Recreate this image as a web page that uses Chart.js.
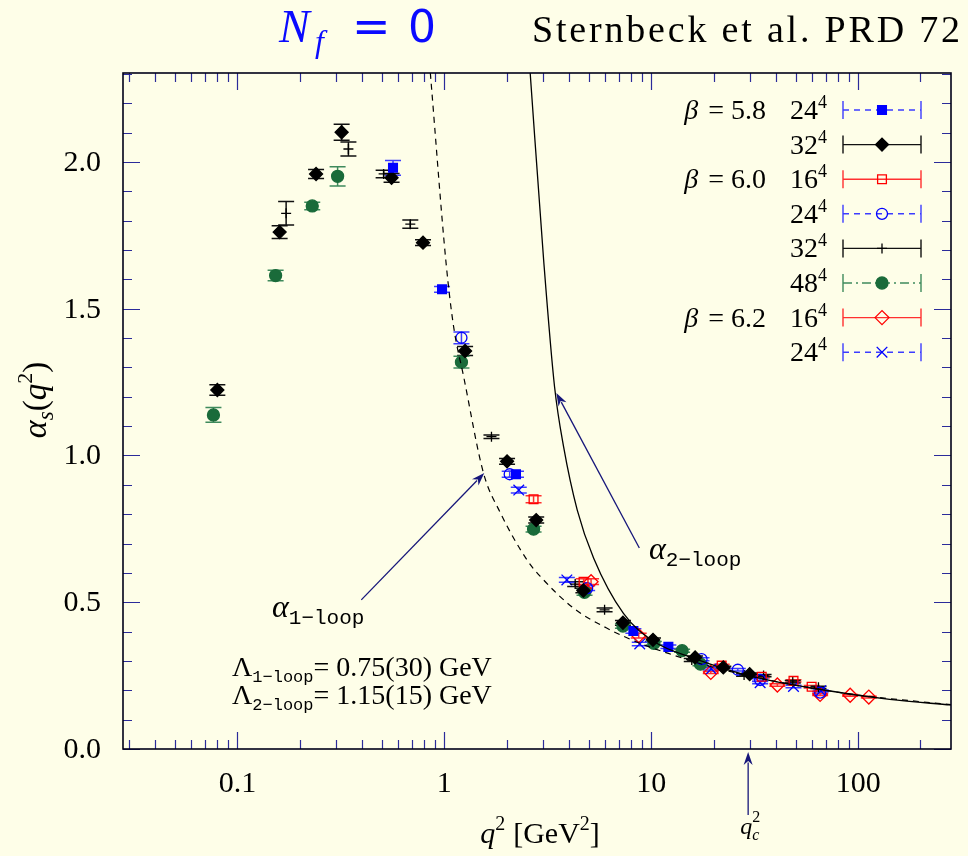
<!DOCTYPE html>
<html>
<head>
<meta charset="utf-8">
<script src="https://cdn.jsdelivr.net/npm/chart.js@4.4.0/dist/chart.umd.min.js"></script>
<style>
  html, body { margin: 0; padding: 0; background: #fefee8; }
  #wrap { width: 968px; height: 856px; }
</style>
</head>
<body>
<div id="wrap"><canvas id="c" width="968" height="856"></canvas></div>
<script>
// points are [q2 (GeV^2), alpha_s, error]
const b58_24 = [[0.565,1.980,0.025],[0.975,1.566,0.010],[2.22,0.936,0.010],[8.2,0.402,0.008],[12.1,0.348,0.006]];
const b58_32 = [[0.080,1.223,0.018],[0.160,1.761,0.022],[0.240,1.959,0.015],[0.319,2.101,0.027],[0.556,1.946,0.015],
  [0.789,1.725,0.010],[1.26,1.356,0.015],[2.01,0.980,0.010],[2.78,0.780,0.010],[4.70,0.540,0.008],[7.3,0.430,0.008],
  [10.2,0.372,0.006],[16.3,0.312,0.005],[22.3,0.278,0.004],[29.9,0.255,0.004]];
const b60_16 = [[2.70,0.851,0.012],[4.71,0.570,0.010],[21.9,0.284,0.005],[34.2,0.246,0.004],[48.7,0.232,0.004],[59.6,0.212,0.004]];
const b60_24 = [[1.21,1.401,0.020],[2.07,0.936,0.010],[4.90,0.548,0.008],[17.5,0.306,0.005],[26.2,0.270,0.004],
  [33.6,0.235,0.004],[65.5,0.192,0.004]];
const b60_32 = [[0.172,1.825,0.040],[0.344,2.044,0.024],[0.509,1.959,0.013],[0.685,1.788,0.014],[1.69,1.064,0.006],
  [4.29,0.562,0.008],[5.95,0.474,0.006],[15.7,0.303,0.005],[28.1,0.252,0.004],[34.9,0.250,0.004],[48.3,0.229,0.004],[64.3,0.210,0.004]];
const b60_48 = [[0.0766,1.138,0.025],[0.153,1.613,0.018],[0.230,1.850,0.013],[0.305,1.951,0.033],[1.21,1.318,0.020],
  [2.70,0.749,0.010],[4.76,0.534,0.010],[7.3,0.419,0.008],[10.3,0.360,0.006],[14.1,0.335,0.005],[17.3,0.289,0.005]];
const b62_16 = [[5.12,0.570,0.010],[8.7,0.386,0.008],[19.4,0.261,0.004],[40.7,0.218,0.004],[65.5,0.186,0.004],
  [91.5,0.183,0.003],[112.6,0.177,0.003]];
const b62_24 = [[2.29,0.882,0.010],[3.91,0.576,0.008],[8.8,0.358,0.006],[19.5,0.273,0.004],[33.6,0.226,0.004],
  [48.7,0.213,0.004],[66.0,0.198,0.003]];

// curves: [q2, alpha]
const loop1 = [[0.856,2.303],[1.02,1.655],[1.109,1.439],[1.239,1.270],[1.548,0.939],[1.865,0.805],[2.51,0.644],
  [2.91,0.588],[4.21,0.480],[6.09,0.412],[8.83,0.360],[12.8,0.320],[18.6,0.284],[26.9,0.256],[52,0.215],[100,0.184],[281,0.151]];
const loop2 = [[2.60,2.303],[3.02,1.666],[3.41,1.234],[3.77,1.030],[4.39,0.814],[5.27,0.650],[7.34,0.462],
  [10.3,0.366],[16.1,0.309],[28.9,0.252],[68.2,0.201],[142,0.169],[281,0.150]];

const xTicks = [0.1, 1, 10, 100];
const xTickLabels = ['0.1', '1', '10', '100'];
const yTicks = [0, 0.5, 1.0, 1.5, 2.0];
const yTickLabels = ['0.0', '0.5', '1.0', '1.5', '2.0'];
const qc2 = 29.4;

const series = [
  { pts: b58_24, color: '#0000ff', bar: '#3c3cff', style: 'rect',     r: 6.2, fill: true,  dash: [6, 5], beta: '5.8', L: '24' },
  { pts: b58_32, color: '#000000', bar: '#111111', style: 'rectRot',  r: 6.5, fill: true,  dash: [],     beta: '',    L: '32' },
  { pts: b60_16, color: '#ff0000', bar: '#ff3030', style: 'rect',     r: 6.2, fill: false, dash: [],     beta: '6.0', L: '16' },
  { pts: b60_24, color: '#0000ff', bar: '#3c3cff', style: 'circle',   r: 5.5, fill: false, dash: [6, 5], beta: '',    L: '24' },
  { pts: b60_32, color: '#000000', bar: '#111111', style: 'cross',    r: 5,   fill: false, dash: [],     beta: '',    L: '32' },
  { pts: b60_48, color: '#1a6b3a', bar: '#3f8a5c', style: 'circle',   r: 6,   fill: true,  dash: [9, 4, 2, 4], beta: '', L: '48' },
  { pts: b62_16, color: '#ff0000', bar: '#ff3030', style: 'rectRot',  r: 7,   fill: false, dash: [],     beta: '6.2', L: '16' },
  { pts: b62_24, color: '#0000ff', bar: '#3c3cff', style: 'crossRot', r: 7.5, fill: false, dash: [6, 5], beta: '',    L: '24' },
];

const BG = '#fefee8';
const TICK = '#2b2b9a';
const NAVY = '#16167a';
const SERIF = '"Liberation Serif", "DejaVu Serif", serif';
const MONO = '"Liberation Mono", "DejaVu Sans Mono", monospace';

function parts(ctx, x, y, list) {
  ctx.textAlign = 'left';
  ctx.textBaseline = 'alphabetic';
  list.forEach(p => {
    ctx.font = p.f;
    ctx.fillText(p.t, x, y + (p.dy || 0));
    x += ctx.measureText(p.t).width + (p.gap || 0);
  });
  return x;
}

function partsWidth(ctx, list) {
  let w = 0;
  list.forEach(p => { ctx.font = p.f; w += ctx.measureText(p.t).width + (p.gap || 0); });
  return w;
}

function marker(ctx, s, x, y) {
  ctx.save();
  ctx.strokeStyle = s.color;
  ctx.fillStyle = s.color;
  ctx.lineWidth = 1.3;
  ctx.setLineDash([]);
  ctx.beginPath();
  const r = s.r;
  if (s.style === 'rect') {
    const h = r * Math.SQRT1_2;
    ctx.rect(x - h, y - h, 2 * h, 2 * h);
  } else if (s.style === 'rectRot') {
    ctx.moveTo(x - r, y); ctx.lineTo(x, y - r); ctx.lineTo(x + r, y); ctx.lineTo(x, y + r); ctx.closePath();
  } else if (s.style === 'circle') {
    ctx.arc(x, y, r, 0, Math.PI * 2);
  } else if (s.style === 'cross') {
    ctx.moveTo(x - r, y); ctx.lineTo(x + r, y); ctx.moveTo(x, y - r); ctx.lineTo(x, y + r);
  } else {
    const h = r * Math.SQRT1_2;
    ctx.moveTo(x - h, y - h); ctx.lineTo(x + h, y + h); ctx.moveTo(x + h, y - h); ctx.lineTo(x - h, y + h);
  }
  if (s.fill) ctx.fill();
  ctx.stroke();
  ctx.restore();
}

function arrow(ctx, x1, y1, x2, y2) {
  const a = Math.atan2(y2 - y1, x2 - x1);
  const len = 13, w = 4.5;
  ctx.save();
  ctx.strokeStyle = NAVY; ctx.fillStyle = NAVY; ctx.lineWidth = 1.3;
  ctx.beginPath(); ctx.moveTo(x1, y1);
  ctx.lineTo(x2 - Math.cos(a) * len * 0.8, y2 - Math.sin(a) * len * 0.8); ctx.stroke();
  ctx.beginPath();
  ctx.moveTo(x2, y2);
  ctx.lineTo(x2 - Math.cos(a) * len - Math.sin(a) * w, y2 - Math.sin(a) * len + Math.cos(a) * w);
  ctx.lineTo(x2 - Math.cos(a) * len * 0.7, y2 - Math.sin(a) * len * 0.7);
  ctx.lineTo(x2 - Math.cos(a) * len + Math.sin(a) * w, y2 - Math.sin(a) * len - Math.cos(a) * w);
  ctx.closePath(); ctx.fill();
  ctx.restore();
}

const deco = {
  id: 'deco',
  beforeDraw(chart) {
    const ctx = chart.ctx;
    ctx.save();
    ctx.fillStyle = BG;
    ctx.fillRect(0, 0, chart.width, chart.height);
    ctx.restore();
  },
  beforeDatasetsDraw(chart) {
    const ctx = chart.ctx, xs = chart.scales.x, ys = chart.scales.y, a = chart.chartArea;
    ctx.save();
    ctx.beginPath(); ctx.rect(a.left, a.top, a.right - a.left, a.bottom - a.top); ctx.clip();
    chart.data.datasets.forEach(ds => {
      if (!ds.err) return;
      ctx.strokeStyle = ds.barColor;
      ctx.lineWidth = 1.5;
      ds.data.forEach((p, i) => {
        const px = xs.getPixelForValue(p.x);
        const y1 = ys.getPixelForValue(p.y - ds.err[i]);
        const y2 = ys.getPixelForValue(p.y + ds.err[i]);
        ctx.beginPath();
        ctx.moveTo(px, y1); ctx.lineTo(px, y2);
        ctx.moveTo(px - 8, y1); ctx.lineTo(px + 8, y1);
        ctx.moveTo(px - 8, y2); ctx.lineTo(px + 8, y2);
        ctx.stroke();
      });
    });
    ctx.restore();
  },
  afterDraw(chart) {
    const ctx = chart.ctx, xs = chart.scales.x, ys = chart.scales.y, a = chart.chartArea;
    ctx.save();
    // ticks on all four sides, pointing in
    ctx.strokeStyle = TICK; ctx.lineWidth = 1.2;
    const xt = [];
    for (let d = -2; d <= 2; d++) for (let m = 1; m <= 9; m++) {
      const v = m * Math.pow(10, d);
      if (v >= xs.min && v <= xs.max) xt.push([v, m === 1]);
    }
    xt.forEach(([v, major]) => {
      const px = Math.round(xs.getPixelForValue(v)) + 0.5, L = major ? 17 : 9;
      ctx.beginPath();
      ctx.moveTo(px, a.bottom); ctx.lineTo(px, a.bottom - L);
      ctx.moveTo(px, a.top); ctx.lineTo(px, a.top + L);
      ctx.stroke();
    });
    for (let k = 0; k <= 23; k++) {
      const v = k / 10, major = k % 5 === 0, L = major ? 17 : 9;
      const py = Math.round(ys.getPixelForValue(v)) + 0.5;
      ctx.beginPath();
      ctx.moveTo(a.left, py); ctx.lineTo(a.left + L, py);
      ctx.moveTo(a.right, py); ctx.lineTo(a.right - L, py);
      ctx.stroke();
    }
    // frame
    ctx.strokeStyle = '#000018'; ctx.lineWidth = 1.6;
    ctx.strokeRect(a.left, a.top, a.right - a.left, a.bottom - a.top);

    // tick labels
    ctx.fillStyle = '#000';
    ctx.font = '30px ' + SERIF;
    ctx.textAlign = 'center'; ctx.textBaseline = 'alphabetic';
    xTicks.forEach((v, i) => ctx.fillText(xTickLabels[i], xs.getPixelForValue(v), a.bottom + 43));
    ctx.textAlign = 'right'; ctx.textBaseline = 'middle';
    yTicks.forEach((v, i) => ctx.fillText(yTickLabels[i], a.left - 22, ys.getPixelForValue(v) + 1));

    // axis titles
    ctx.fillStyle = '#000';
    const xl = [
      { t: 'q', f: 'italic 30px ' + SERIF },
      { t: '2', f: '20px ' + SERIF, dy: -13, gap: 8 },
      { t: '[GeV', f: '30px ' + SERIF },
      { t: '2', f: '20px ' + SERIF, dy: -13 },
      { t: ']', f: '30px ' + SERIF },
    ];
    parts(ctx, 538 - partsWidth(ctx, xl) / 2 + 2, 843, xl);
    const yl = [
      { t: 'α', f: 'italic 34px ' + SERIF },
      { t: 's', f: 'italic 23px ' + SERIF, dy: 7 },
      { t: '(', f: '33px ' + SERIF },
      { t: 'q', f: 'italic 33px ' + SERIF },
      { t: '2', f: '22px ' + SERIF, dy: -14 },
      { t: ')', f: '33px ' + SERIF },
    ];
    ctx.save();
    ctx.translate(46, 400 + partsWidth(ctx, yl) / 2); ctx.rotate(-Math.PI / 2);
    parts(ctx, 0, 0, yl);
    ctx.restore();

    // titles
    ctx.fillStyle = '#0a0aff';
    ctx.font = 'italic 46px ' + SERIF; ctx.textAlign = 'left';
    ctx.fillText('N', 279, 42);
    ctx.font = 'italic 32px ' + SERIF;
    ctx.fillText('f', 315, 52);
    ctx.font = '46px "DejaVu Sans", sans-serif';
    ctx.fillText('=', 352, 42);
    ctx.font = '44px "DejaVu Sans", sans-serif';
    ctx.fillText('0', 408, 42);
    ctx.fillStyle = '#000';
    ctx.font = '38px ' + SERIF;
    const title = 'Sternbeck et al. PRD 72';
    const tw = ctx.measureText(title).width;
    ctx.letterSpacing = Math.max(0, (428 - tw) / (title.length - 1)).toFixed(2) + 'px';
    ctx.textAlign = 'left';
    ctx.fillText(title, 532, 42);
    ctx.letterSpacing = '0px';

    // curve annotations
    const X = v => xs.getPixelForValue(v), Y = v => ys.getPixelForValue(v);
    arrow(ctx, X(0.397), Y(0.508), X(1.56), Y(0.94));
    arrow(ctx, X(8.76), Y(0.685), X(3.48), Y(1.213));
    arrow(ctx, X(qc2), a.bottom + 66, X(qc2), a.bottom + 3);
    ctx.fillStyle = '#000';
    parts(ctx, 272, 617, [
      { t: 'α', f: 'italic 32px ' + SERIF },
      { t: '1−loop', f: '21px ' + MONO, dy: 7 },
    ]);
    parts(ctx, 649, 559, [
      { t: 'α', f: 'italic 32px ' + SERIF },
      { t: '2−loop', f: '21px ' + MONO, dy: 7 },
    ]);
    parts(ctx, 232, 676, [
      { t: 'Λ', f: '28px ' + SERIF },
      { t: '1−loop', f: '17px ' + MONO, dy: 6 },
      { t: '= 0.75(30) GeV', f: '28px ' + SERIF },
    ]);
    parts(ctx, 232, 704, [
      { t: 'Λ', f: '28px ' + SERIF },
      { t: '2−loop', f: '17px ' + MONO, dy: 6 },
      { t: '= 1.15(15) GeV', f: '28px ' + SERIF },
    ]);
    const qx = X(qc2) - 8;
    ctx.font = 'italic 24px ' + SERIF; ctx.textAlign = 'left';
    ctx.fillText('q', qx, 834);
    ctx.font = '16px ' + SERIF; ctx.fillText('2', qx + 12, 822);
    ctx.font = 'italic 16px ' + SERIF; ctx.fillText('c', qx + 12, 840);

    // legend
    series.forEach((s, i) => {
      const cy = 110 + i * 34.6;
      ctx.fillStyle = '#000';
      if (s.beta) {
        ctx.textAlign = 'right';
        ctx.font = '28px ' + SERIF;
        const bw = ctx.measureText(' = ' + s.beta).width;
        ctx.fillText(' = ' + s.beta, 766, cy + 9);
        ctx.font = 'italic 28px ' + SERIF;
        ctx.fillText('β', 763 - bw, cy + 9);
      }
      parts(ctx, 790, cy + 9, [
        { t: s.L, f: '28px ' + SERIF },
        { t: '4', f: '18px ' + SERIF, dy: -11 },
      ]);
      ctx.strokeStyle = s.bar; ctx.lineWidth = 1.4;
      ctx.setLineDash(s.dash);
      ctx.beginPath(); ctx.moveTo(843, cy); ctx.lineTo(921, cy); ctx.stroke();
      ctx.setLineDash([]);
      ctx.beginPath();
      ctx.moveTo(843, cy - 9); ctx.lineTo(843, cy + 9);
      ctx.moveTo(921, cy - 9); ctx.lineTo(921, cy + 9);
      ctx.stroke();
      marker(ctx, s, 882, cy);
    });
    ctx.restore();
  }
};

const datasets = series.map(s => ({
  data: s.pts.map(p => ({ x: p[0], y: p[1] })),
  err: s.pts.map(p => p[2]),
  barColor: s.bar,
  showLine: false,
  pointStyle: s.style,
  pointRadius: s.r,
  pointBorderWidth: 1.3,
  pointBackgroundColor: s.fill ? s.color : 'rgba(0,0,0,0)',
  pointBorderColor: s.color,
}));
datasets.unshift({
  data: loop1.map(p => ({ x: p[0], y: p[1] })),
  showLine: true, pointRadius: 0, borderColor: '#000', borderWidth: 1.2,
  borderDash: [6, 5], cubicInterpolationMode: 'monotone', fill: false,
}, {
  data: loop2.map(p => ({ x: p[0], y: p[1] })),
  showLine: true, pointRadius: 0, borderColor: '#000', borderWidth: 1.3,
  cubicInterpolationMode: 'monotone', fill: false,
});

new Chart(document.getElementById('c'), {
  type: 'scatter',
  data: { datasets },
  options: {
    responsive: false,
    devicePixelRatio: 1,
    animation: false,
    events: [],
    layout: { padding: { top: 73, right: 17, left: 0, bottom: 0 } },
    plugins: { legend: { display: false }, tooltip: { enabled: false } },
    scales: {
      x: {
        type: 'logarithmic', min: 0.028, max: 281,
        grid: { display: false }, border: { display: false },
        ticks: { display: false },
        afterFit: s => { s.height = 107; },
      },
      y: {
        min: 0, max: 2.303,
        grid: { display: false }, border: { display: false },
        ticks: { display: false },
        afterFit: s => { s.width = 123; },
      },
    },
  },
  plugins: [deco],
});
</script>
</body>
</html>
